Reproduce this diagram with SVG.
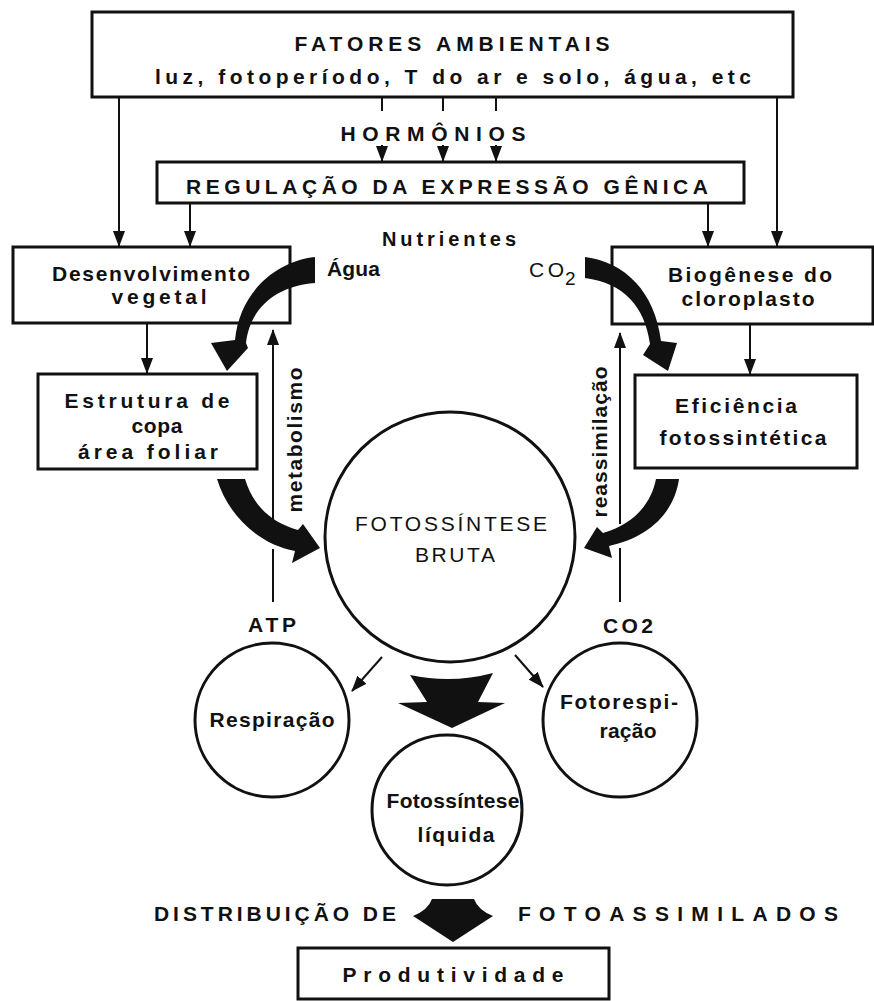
<svg xmlns="http://www.w3.org/2000/svg" width="874" height="1001" viewBox="0 0 874 1001">
<defs>
<style>
.t{font-family:"Liberation Sans",Arial,sans-serif;font-weight:bold;fill:#111;font-size:21px;}
.m{text-anchor:middle;}
.box{fill:#fff;stroke:#111;stroke-width:3;}
.cir{fill:#fff;stroke:#111;stroke-width:3;}
.ln{stroke:#111;stroke-width:2;fill:none;}
.arr{stroke:#111;stroke-width:2;fill:none;marker-end:url(#ah);}
.big{fill:#111;stroke:none;}
</style>
<marker id="ah" viewBox="0 0 16 12" refX="15" refY="6" markerWidth="16" markerHeight="12" markerUnits="userSpaceOnUse" orient="auto">
<path d="M0,0 L16,6 L0,12 Z" fill="#111"/>
</marker>
</defs>
<rect width="874" height="1001" fill="#fff"/>

<g id="fatores">
<rect class="box" x="92" y="12" width="701" height="85"/>
<text class="t m" x="452" y="51" textLength="315" lengthAdjust="spacing">FATORES AMBIENTAIS</text>
<text class="t m" x="453" y="84" textLength="596" lengthAdjust="spacing">luz, fotoperíodo, T do ar e solo, água, etc</text>
</g>

<g id="regulacao">
<rect class="box" x="157" y="162" width="587" height="41"/>
<text class="t m" x="447" y="194" textLength="522" lengthAdjust="spacing">REGULAÇÃO DA EXPRESSÃO GÊNICA</text>
</g>

<g id="desenvolvimento">
<rect class="box" x="13" y="247" width="277" height="76"/>
<text class="t m" x="151" y="281" textLength="198" lengthAdjust="spacing">Desenvolvimento</text>
<text class="t m" x="159" y="304" textLength="95" lengthAdjust="spacing">vegetal</text>
</g>

<g id="biogenese">
<rect class="box" x="612" y="247" width="261" height="77"/>
<text class="t m" x="750" y="282" textLength="164" lengthAdjust="spacing">Biogênese do</text>
<text class="t m" x="748" y="306" textLength="133" lengthAdjust="spacing">cloroplasto</text>
</g>

<g id="estrutura">
<rect class="box" x="38" y="374" width="219" height="95"/>
<text class="t m" x="147" y="408" textLength="165" lengthAdjust="spacing">Estrutura de</text>
<text class="t m" x="157" y="433" textLength="51" lengthAdjust="spacing">copa</text>
<text class="t m" x="148" y="459" textLength="140" lengthAdjust="spacing">área foliar</text>
</g>

<g id="eficiencia">
<rect class="box" x="635" y="375" width="222" height="93"/>
<text class="t m" x="736" y="413" textLength="122" lengthAdjust="spacing">Eficiência</text>
<text class="t m" x="743" y="445" textLength="167" lengthAdjust="spacing">fotossintética</text>
</g>

<g id="fotossintese-bruta">
<circle class="cir" cx="450" cy="537" r="125"/>
<text class="t m" x="451" y="531" textLength="192" lengthAdjust="spacing" style="font-weight:normal">FOTOSSÍNTESE</text>
<text class="t m" x="455" y="562" textLength="80" lengthAdjust="spacing" style="font-weight:normal">BRUTA</text>
</g>

<g id="respiracao">
<circle class="cir" cx="272" cy="720" r="77"/>
<text class="t m" x="272" y="727" textLength="125" lengthAdjust="spacing">Respiração</text>
</g>

<g id="fotorespiracao">
<circle class="cir" cx="620" cy="720" r="77"/>
<text class="t m" x="619" y="709" textLength="118" lengthAdjust="spacing">Fotorespi-</text>
<text class="t m" x="628" y="738" textLength="57" lengthAdjust="spacing">ração</text>
</g>

<g id="fotossintese-liquida">
<circle class="cir" cx="447" cy="810" r="75"/>
<text class="t m" x="453" y="808" textLength="133" lengthAdjust="spacing">Fotossíntese</text>
<text class="t m" x="456" y="842" textLength="77" lengthAdjust="spacing">líquida</text>
</g>

<g id="produtividade">
<rect class="box" x="298" y="948" width="311" height="51"/>
<text class="t m" x="453" y="982" textLength="221" lengthAdjust="spacing">Produtividade</text>
</g>

<g id="labels">
<text class="t m" x="433" y="141" textLength="185" lengthAdjust="spacing">HORMÔNIOS</text>
<text class="t m" x="449" y="246" style="font-size:20px" textLength="134" lengthAdjust="spacing">Nutrientes</text>
<text class="t" x="327" y="276" textLength="53" lengthAdjust="spacing">Água</text>
<text class="t" x="529" y="277" textLength="35" lengthAdjust="spacing" style="font-weight:normal">CO</text>
<text class="t" x="565" y="285" style="font-size:19px;font-weight:normal">2</text>
<text class="t m" x="272" y="632" textLength="48" lengthAdjust="spacing">ATP</text>
<text class="t m" x="628" y="633" textLength="50" lengthAdjust="spacing">CO2</text>
<text class="t m" transform="rotate(-90 302 440)" x="302" y="440" textLength="145" lengthAdjust="spacing">metabolismo</text>
<text class="t m" transform="rotate(-90 607 442)" x="607" y="442" textLength="151" lengthAdjust="spacing">reassimilação</text>
<text class="t" x="154" y="921" textLength="242" lengthAdjust="spacing">DISTRIBUIÇÃO DE</text>
<text class="t" x="518" y="921" textLength="320" lengthAdjust="spacing">FOTOASSIMILADOS</text>
</g>

<g id="connectors">
<line class="arr" x1="119" y1="97" x2="119" y2="246"/>
<line class="arr" x1="777" y1="97" x2="777" y2="246"/>
<line class="ln" x1="382" y1="97" x2="382" y2="111"/>
<line class="ln" x1="443" y1="97" x2="443" y2="111"/>
<line class="ln" x1="496" y1="97" x2="496" y2="111"/>
<line class="arr" x1="382" y1="145" x2="382" y2="161"/>
<line class="arr" x1="443" y1="145" x2="443" y2="161"/>
<line class="arr" x1="496" y1="145" x2="496" y2="161"/>
<line class="arr" x1="190" y1="203" x2="190" y2="246"/>
<line class="arr" x1="708" y1="203" x2="708" y2="246"/>
<line class="arr" x1="147" y1="323" x2="147" y2="373"/>
<line class="arr" x1="750" y1="324" x2="750" y2="374"/>
<line class="ln" x1="273" y1="602" x2="273" y2="549"/>
<line class="arr" x1="273" y1="521" x2="273" y2="330"/>
<line class="ln" x1="620" y1="602" x2="620" y2="548"/>
<line class="arr" x1="620" y1="524" x2="620" y2="333"/>
<line class="arr" x1="382" y1="657" x2="352" y2="691"/>
<line class="arr" x1="515" y1="655" x2="543" y2="687"/>
<path class="big" d="M315,257 C278,261 240,290 235,340 L211,343 L227,371 L248,348 L246,343 C250,308 276,286 315,283 Z"/>
<path class="big" d="M585,257 C625,262 655,292 661,341 L677,343 L668,371 L643,355 L650,344 C645,307 624,283 585,278 Z"/>
<path class="big" d="M217,479 L245,479 C253,505 270,522 298,530 L303,524 L320,548 L292,563 L295,551 C258,544 228,515 217,479 Z"/>
<path class="big" d="M656,479 L679,479 C674,515 646,538 609,546 L612,558 L584,548 L597,527 L603,533 C632,525 651,505 656,479 Z"/>
<path class="big" d="M410,675 Q452,684 493,673 L478,702 L505,703 L452,728 L398,703 L427,702 Z"/>
<path class="big" d="M432,899 L474,899 Q478,910 493,916 L453,942 L413,916 Q428,910 432,899 Z"/>
</g>
</svg>
